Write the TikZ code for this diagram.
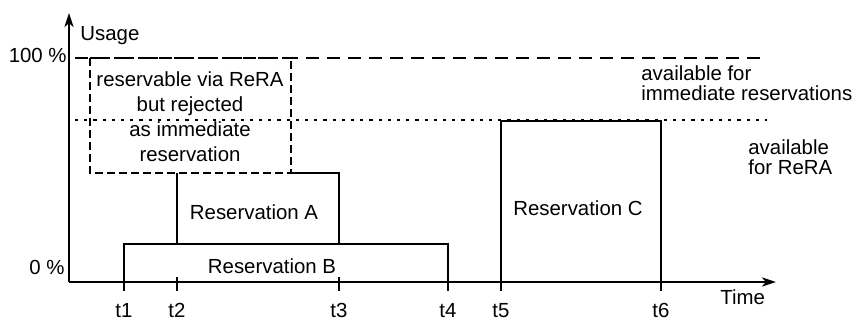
\documentclass[tikz,border=0pt]{standalone}
\usepackage{fontspec}
\setmainfont{Liberation Sans}
\usetikzlibrary{arrows.meta}
\begin{document}
\begin{tikzpicture}[x=0.5pt,y=-0.5pt,
  lbl/.style={inner sep=0pt,font=\fontsize{10.2pt}{12pt}\selectfont},
  axisline/.style={line width=1.4pt,-{Stealth[length=7pt,width=4.5pt,inset=2pt]}},
  resbox/.style={line width=1pt},
  tickmark/.style={line width=1pt},
  fullline/.style={line width=1pt,dash pattern=on 6.5pt off 4pt},
  ceiling/.style={line width=0.9pt,dash pattern=on 1.6pt off 3pt},
  rejbox/.style={line width=1.3pt,dash pattern=on 4pt off 2pt}]
\useasboundingbox (0,0) rectangle (852,320);

% origin and axis ends
\coordinate (O) at (69,282);
\coordinate (ytop) at (69,13);
\coordinate (xend) at (776,282);

% reference levels: 100 % capacity and the ReRA ceiling
\coordinate (fullL) at (75,58);
\coordinate (fullR) at (767,58);
\coordinate (ceilL) at (75,120);
\coordinate (ceilR) at (767,120);
\draw[fullline] (fullL) -- (fullR);
\draw[ceiling] (ceilL) -- (ceilR);

% rejected request (dashed)
\coordinate (rejNW) at (90,58);
\coordinate (rejSE) at (291,173);
\draw[rejbox] (rejNW) rectangle (rejSE);

% Reservation B
\draw[resbox] (124,282) -- (124,244) -- (448,244) -- (448,282);
% Reservation A
\draw[resbox] (177,244) -- (177,173);
\draw[resbox] (291,173) -- (339,173) -- (339,244);
% Reservation C
\draw[resbox,fill=white] (501,282) -- (501,121) -- (661,121) -- (661,282);

% axes
\draw[axisline] (O) -- (ytop);
\draw[axisline] (O) -- (xend);

% ticks and their labels
\foreach \n/\x in {1/124,2/177,3/339,4/448,5/501,6/661}{
  \draw[tickmark] (\x,277) coordinate (tk\n) -- (\x,291);
  \node[lbl,anchor=base] (t\n) at (\x,318) {t\n};
}

% axis labels
\node[lbl,anchor=base west] (usage) at (80,41) {Usage};
\node[lbl,anchor=base east] (p100) at (67,63) {100 \%};
\node[lbl,anchor=base east] (p0) at (65,275) {0 \%};
\node[lbl,anchor=base west] (time) at (720,305) {Time};

% text of the rejected request
\node[lbl,anchor=base] (rj1) at (190,87) {reservable via ReRA};
\node[lbl,anchor=base] (rj2) at (190,112) {but rejected};
\node[lbl,anchor=base] (rj3) at (190,137) {as immediate};
\node[lbl,anchor=base] (rj4) at (190,162) {reservation};

% reservation names
\node[lbl] (resA) at (254,212) {Reservation A};
\node[lbl] (resB) at (272,266) {Reservation B};
\node[lbl] (resC) at (578,208) {Reservation C};

% capacity bands
\node[lbl,anchor=base west] (im1) at (641,81) {available for};
\node[lbl,anchor=base west] (im2) at (641,101) {immediate reservations};
\node[lbl,anchor=base west] (rr1) at (748,155) {available};
\node[lbl,anchor=base west] (rr2) at (748,175) {for ReRA};
\end{tikzpicture}
\end{document}
